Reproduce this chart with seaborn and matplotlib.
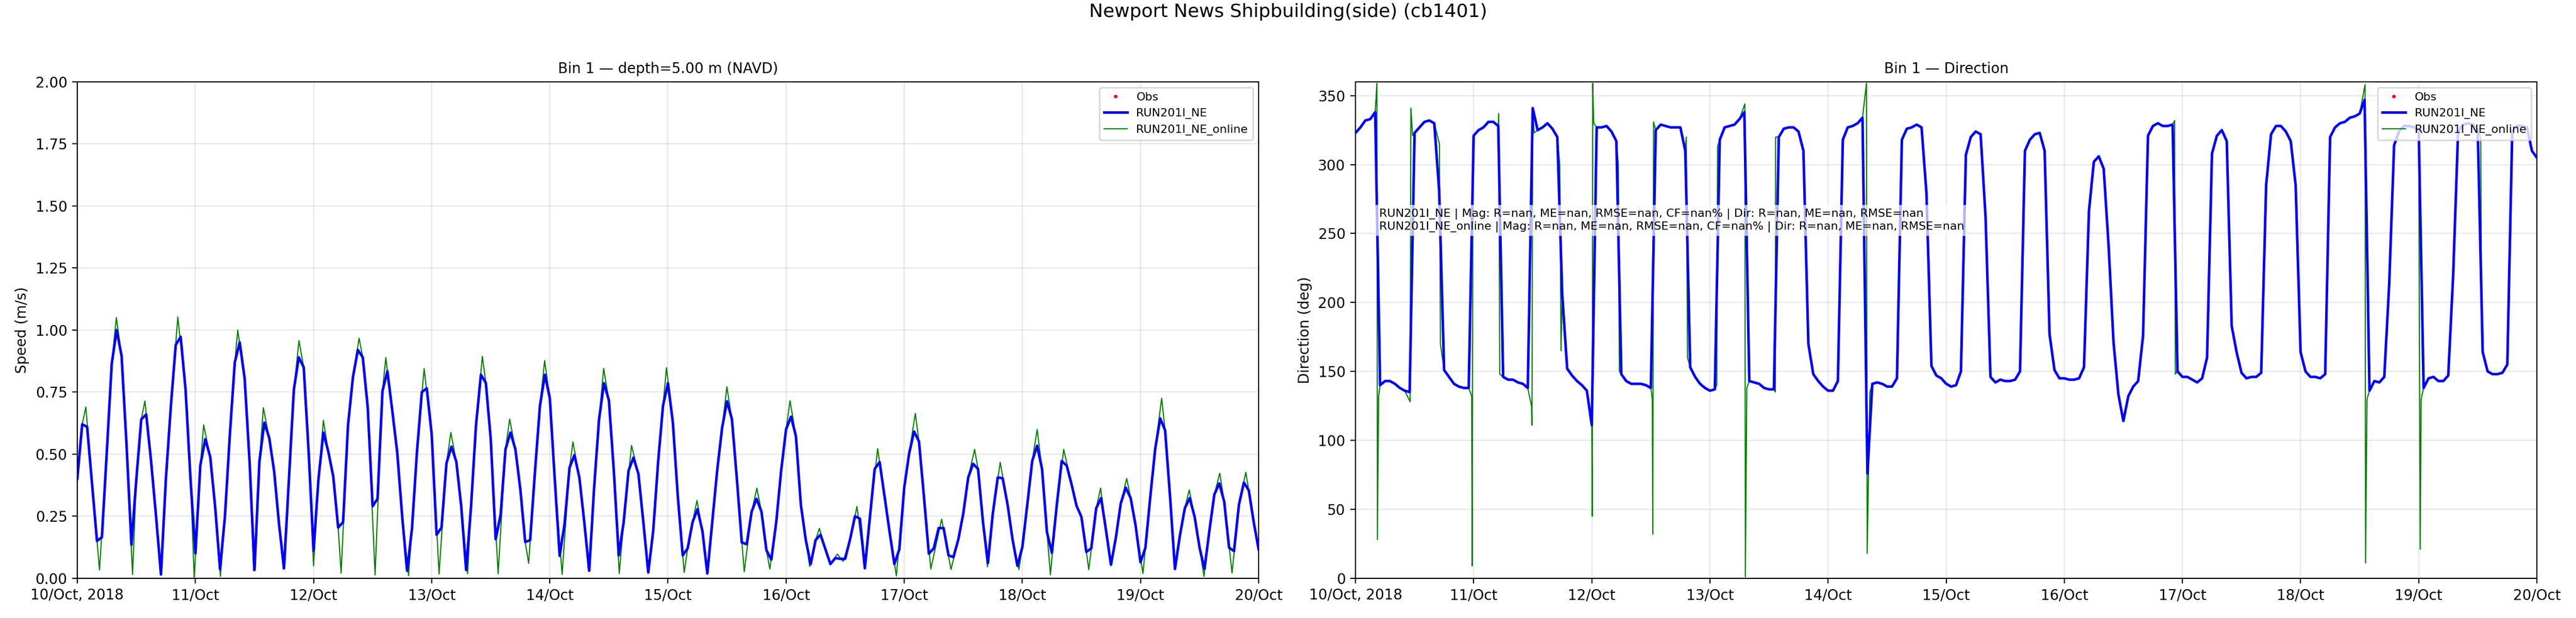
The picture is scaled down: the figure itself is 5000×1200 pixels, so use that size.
import matplotlib
matplotlib.use("Agg")
import matplotlib.pyplot as plt
import matplotlib.dates as mdates
from matplotlib.ticker import FuncFormatter, FormatStrFormatter
import numpy as np
import pandas as pd
import seaborn as sns

START = pd.Timestamp("2018-10-10 00:00")
STATION = "Newport News Shipbuilding(side) (cb1401)"

# hourly model run, speed (m/s), hours 0..240 from START
run_speed = [
    0.40, 0.62, 0.61, 0.38, 0.15, 0.165, 0.51, 0.864, 1.00, 0.896, 0.54, 0.135,
    0.40, 0.64, 0.66, 0.47, 0.25, 0.015, 0.40, 0.69, 0.94, 0.973, 0.76, 0.40,
    0.10, 0.455, 0.56, 0.49, 0.29, 0.036, 0.25, 0.58, 0.87, 0.95, 0.805, 0.47,
    0.033, 0.47, 0.627, 0.565, 0.43, 0.215, 0.04, 0.40, 0.76, 0.89, 0.85, 0.51,
    0.11, 0.40, 0.587, 0.51, 0.41, 0.204, 0.226, 0.616, 0.81, 0.92, 0.89, 0.69,
    0.29, 0.32, 0.754, 0.834, 0.674, 0.507, 0.25, 0.03, 0.20, 0.507, 0.75, 0.765,
    0.58, 0.175, 0.204, 0.463, 0.53, 0.47, 0.29, 0.033, 0.29, 0.616, 0.82, 0.787,
    0.56, 0.157, 0.255, 0.52, 0.587, 0.52, 0.36, 0.146, 0.153, 0.434, 0.696, 0.82,
    0.725, 0.40, 0.09, 0.22, 0.445, 0.496, 0.406, 0.226, 0.03, 0.365, 0.64, 0.786,
    0.717, 0.434, 0.092, 0.226, 0.434, 0.486, 0.42, 0.226, 0.023, 0.19, 0.468, 0.696,
    0.786, 0.627, 0.33, 0.092, 0.12, 0.226, 0.278, 0.19, 0.019, 0.226, 0.434, 0.606,
    0.713, 0.64, 0.40, 0.144, 0.137, 0.268, 0.32, 0.268, 0.113, 0.075, 0.226, 0.434,
    0.60, 0.651, 0.572, 0.296, 0.154, 0.057, 0.154, 0.175, 0.116, 0.057, 0.081, 0.078,
    0.078, 0.157, 0.25, 0.24, 0.04, 0.24, 0.44, 0.468, 0.33, 0.19, 0.057, 0.116,
    0.365, 0.503, 0.591, 0.551, 0.33, 0.099, 0.12, 0.202, 0.202, 0.092, 0.085, 0.157,
    0.261, 0.406, 0.461, 0.44, 0.226, 0.061, 0.261, 0.406, 0.403, 0.296, 0.157, 0.05,
    0.126, 0.296, 0.472, 0.534, 0.44, 0.185, 0.102, 0.296, 0.472, 0.454, 0.378, 0.292,
    0.247, 0.106, 0.12, 0.282, 0.323, 0.192, 0.054, 0.164, 0.302, 0.365, 0.323, 0.213,
    0.064, 0.123, 0.33, 0.523, 0.644, 0.596, 0.33, 0.037, 0.171, 0.282, 0.323, 0.247,
    0.123, 0.037, 0.192, 0.337, 0.382, 0.309, 0.123, 0.109, 0.296, 0.385, 0.354, 0.226,
    0.116,
]

# hourly model run, direction (deg)
run_dir = [
    323, 327, 332, 333, 338, 140, 143, 143, 141, 138, 136, 135,
    323, 327, 331, 332, 330, 281, 151, 146, 141, 139, 138, 138,
    321, 325, 327, 331, 331, 328, 146, 144, 144, 142, 141, 138,
    341, 325, 327, 330, 326, 320, 206, 152, 147, 143, 140, 136,
    111, 327, 327, 328, 324, 317, 148, 143, 141, 141, 141, 140,
    138, 325, 329, 328, 327, 327, 327, 310, 153, 146, 141, 138,
    136, 137, 318, 327, 328, 329, 333, 338, 143, 142, 141, 138,
    137, 137, 320, 326, 327, 327, 324, 310, 170, 148, 143, 139,
    136, 136, 143, 318, 327, 328, 330, 334, 76, 141, 142, 141,
    139, 139, 145, 318, 326, 327, 329, 327, 279, 154, 147, 145,
    141, 139, 140, 150, 307, 320, 324, 322, 262, 146, 142, 144,
    143, 143, 144, 150, 310, 318, 322, 323, 310, 177, 151, 145,
    145, 144, 144, 145, 153, 266, 302, 306, 297, 241, 171, 133,
    114, 132, 139, 143, 176, 321, 328, 330, 328, 328, 329, 150,
    146, 146, 144, 142, 145, 160, 308, 321, 325, 317, 183, 164,
    149, 145, 146, 146, 149, 285, 322, 328, 328, 324, 317, 285,
    164, 150, 146, 146, 145, 148, 320, 327, 330, 331, 334, 335,
    337, 347, 136, 143, 142, 146, 213, 314, 324, 328, 328, 327,
    325, 138, 145, 146, 143, 143, 147, 220, 324, 329, 330, 329,
    324, 164, 150, 148, 148, 149, 155, 324, 328, 328, 327, 310,
    305,
]

# online run: sub-hourly peaks / slack-water troughs of speed (hours from START)
online_speed_hours = [
    1.74, 4.52, 7.93, 11.23, 13.74, 16.97, 20.42, 23.76, 25.67, 29.08, 32.6, 35.83,
    37.8, 41.84, 45.04, 48.0, 50.0, 53.6, 57.25, 60.5, 62.68, 67.3, 70.46, 73.5,
    75.89, 79.3, 82.3, 85.5, 87.84, 91.7, 94.95, 98.5, 100.7, 103.85, 106.94, 110.1,
    112.6, 116.0, 119.7, 123.3, 125.9, 128.0, 131.97, 135.5, 138.06, 140.7, 144.8, 148.8,
    150.76, 153.0, 154.4, 155.6, 158.4, 160.0, 162.6, 166.4, 170.25, 173.4, 175.6, 177.5,
    182.3, 184.9, 187.5, 191.3, 195.0, 197.7, 200.4, 205.5, 207.9, 210.0, 213.2, 216.5,
    220.3, 223.1, 225.9, 228.9, 232.1, 234.6, 237.4,
]
online_speed_values = [
    0.69, 0.033, 1.05, 0.015, 0.714, 0.015, 1.053, 0.0, 0.618, 0.007, 1.0, 0.03,
    0.687, 0.036, 0.957, 0.05, 0.636, 0.02, 0.967, 0.013, 0.889, 0.01, 0.845, 0.017,
    0.587, 0.018, 0.894, 0.018, 0.641, 0.06, 0.877, 0.015, 0.549, 0.03, 0.845, 0.019,
    0.535, 0.023, 0.848, 0.023, 0.313, 0.016, 0.771, 0.026, 0.363, 0.037, 0.715, 0.047,
    0.201, 0.055, 0.097, 0.068, 0.289, 0.039, 0.522, 0.009, 0.664, 0.037, 0.238, 0.035,
    0.519, 0.046, 0.467, 0.035, 0.599, 0.014, 0.519, 0.035, 0.363, 0.052, 0.402, 0.019,
    0.725, 0.035, 0.356, 0.007, 0.423, 0.021, 0.427,
]

# online run: direction flips around slack water
online_dir_hours = [
    4.35, 4.45, 4.7, 11.1, 11.25, 11.6, 17.05, 17.25, 23.6, 23.7, 23.85,
    29.1, 29.3, 35.75, 35.85, 36.3, 41.5, 41.75, 48.1, 48.2, 48.4,
    53.4, 53.6, 60.3, 60.4, 60.55, 67.2, 67.45, 73.4, 73.55,
    79.1, 79.2, 79.5, 85.3, 85.35, 103.8, 103.95, 104.5,
    166.4, 166.55, 205.1, 205.2, 205.5, 216.3, 216.5, 228.6, 228.8,
]
online_dir_values = [
    359, 28, 132, 128, 341, 321, 315, 170, 132, 9, 320,
    337, 148, 125, 111, 323, 300, 165, 45, 359, 330,
    300, 150, 130, 32, 331, 320, 160, 140, 313,
    344, 1, 138, 135, 320, 359, 18, 135,
    332, 148, 358, 11, 130, 21, 130, 320, 170,
]


def online_series(base, ev_hours, ev_values, window):
    """Hourly run values away from the online events, plus the events."""
    hours = np.arange(len(base), dtype=float)
    ev_hours = np.asarray(ev_hours, dtype=float)
    keep = np.array([np.min(np.abs(ev_hours - h)) > window for h in hours])
    t = np.concatenate([hours[keep], ev_hours])
    v = np.concatenate([np.asarray(base, dtype=float)[keep], np.asarray(ev_values, dtype=float)])
    order = np.argsort(t)
    return START + pd.to_timedelta(t[order], unit="h"), v[order]


def day_label(x, pos):
    d = mdates.num2date(x)
    if d.day == START.day and d.month == START.month:
        return d.strftime("%d/%b, %Y")
    return d.strftime("%d/%b")


run_time = START + pd.to_timedelta(np.arange(len(run_speed)), unit="h")
on_spd_t, on_spd_v = online_series(run_speed, online_speed_hours, online_speed_values, 0.6)
on_dir_t, on_dir_v = online_series(run_dir, online_dir_hours, online_dir_values, 0.1)

fig, axes = plt.subplots(1, 2, figsize=(25, 6), dpi=200)
fig.subplots_adjust(left=0.030, right=0.9848, bottom=0.0644, top=0.8675, wspace=0.082)

panels = [
    (axes[0], run_speed, on_spd_t, on_spd_v, "Bin 1 \u2014 depth=5.00 m (NAVD)", "Speed (m/s)"),
    (axes[1], run_dir, on_dir_t, on_dir_v, "Bin 1 \u2014 Direction", "Direction (deg)"),
]

for ax, run_vals, on_t, on_v, title, ylabel in panels:
    # no observations in this window
    ax.plot([], [], linestyle="none", marker="o", color="red", markersize=1.5, label="Obs")
    sns.lineplot(x=run_time, y=run_vals, ax=ax, color="blue", linewidth=1.8,
                 estimator=None, label="RUN201I_NE", zorder=3)
    sns.lineplot(x=on_t, y=on_v, ax=ax, color="green", linewidth=0.8,
                 estimator=None, label="RUN201I_NE_online", zorder=2)
    ax.set_title(title, fontsize=10)
    ax.set_ylabel(ylabel, fontsize=10)
    ax.set_xlabel("")
    ax.set_xlim(START, START + pd.Timedelta(days=10))
    ax.xaxis.set_major_locator(mdates.DayLocator())
    ax.xaxis.set_major_formatter(FuncFormatter(day_label))
    ax.grid(True, alpha=0.3)
    ax.legend(loc="upper right", fontsize=8)

axes[0].set_ylim(0, 2)
axes[0].set_yticks(np.arange(0, 2.01, 0.25))
axes[0].yaxis.set_major_formatter(FormatStrFormatter("%.2f"))
axes[1].set_ylim(0, 360)
axes[1].set_yticks(np.arange(0, 351, 50))

stats = ("RUN201I_NE | Mag: R=nan, ME=nan, RMSE=nan, CF=nan% | Dir: R=nan, ME=nan, RMSE=nan\n"
         "RUN201I_NE_online | Mag: R=nan, ME=nan, RMSE=nan, CF=nan% | Dir: R=nan, ME=nan, RMSE=nan")
axes[1].text(0.02, 0.745, stats, transform=axes[1].transAxes, fontsize=8, va="top", ha="left",
             bbox=dict(facecolor="white", alpha=0.7, edgecolor="none", pad=2.5), zorder=5)

fig.suptitle(STATION, fontsize=13, y=0.995)
fig.savefig("out.png", dpi=200)
plt.close(fig)
